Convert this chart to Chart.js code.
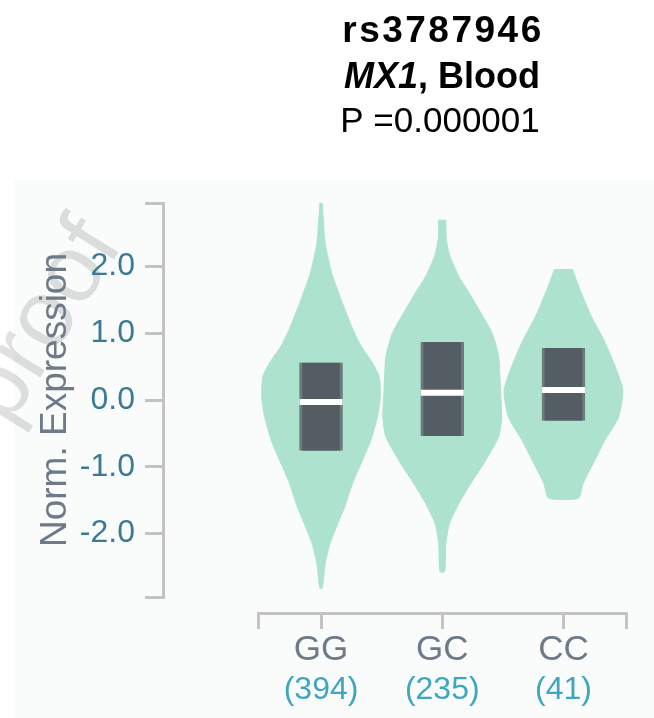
<!DOCTYPE html>
<html>
<head>
<meta charset="utf-8">
<script src="https://cdn.jsdelivr.net/npm/chart.js@4.4.1/dist/chart.umd.min.js"></script>
<style>
  html, body { margin: 0; padding: 0; background: #ffffff; }
  #wrap { width: 654px; height: 718px; }
</style>
</head>
<body>
<div id="wrap"><canvas id="eqtlChart" width="654" height="718"></canvas></div>
<script>
const genotypes = ["GG", "GC", "CC"];
const sampleCounts = [394, 235, 41];
const yTicks = [-2, -1, 0, 1, 2];
const yRange = [-2.95, 2.95];
const xRange = [-0.52, 2.52];

// violin outlines: expression level -> relative density (1 = widest)
const ggLevels = [2.95, 2.35, 1.90, 1.50, 1.05, 0.80, 0.55, 0.35, 0.05, -0.25, -0.60, -0.90, -1.25, -1.60, -1.90, -2.15, -2.45, -2.82];
const ggDensity = [0.02, 0.07, 0.18, 0.34, 0.54, 0.68, 0.87, 0.98, 1.00, 0.95, 0.84, 0.70, 0.53, 0.40, 0.26, 0.15, 0.07, 0.02];
const gcLevels = [2.70, 2.40, 2.15, 1.85, 1.65, 1.35, 1.00, 0.65, 0.15, -0.25, -0.55, -0.95, -1.25, -1.55, -1.85, -2.15, -2.57];
const gcDensity = [0.06, 0.07, 0.13, 0.28, 0.42, 0.62, 0.84, 0.95, 0.98, 1.00, 0.95, 0.70, 0.48, 0.28, 0.12, 0.06, 0.04];
const ccLevels = [1.96, 1.65, 1.25, 0.90, 0.55, 0.15, -0.25, -0.60, -0.95, -1.25, -1.47];
const ccDensity = [0.15, 0.28, 0.47, 0.68, 0.85, 1.00, 0.93, 0.70, 0.50, 0.33, 0.25];

// box: quartiles and medians
const q1 = [-0.76, -0.54, -0.31];
const medians = [-0.03, 0.11, 0.15];
const q3 = [0.56, 0.87, 0.78];

const FONT = '"Liberation Sans", Arial, Helvetica, sans-serif';
const axisGray = "#c3c3c3";
const labelGray = "#6e7a87";
const tickBlue = "#3a7a95";
const countBlue = "#3ea6bf";
const violinGreen = "#ade3ce";
const VIOLIN_HALF = 0.49; // widest point, in category units

function violinOutline(i, levels, density) {
  const right = levels.map((v, k) => ({ x: i + density[k] * VIOLIN_HALF, y: v }));
  const left = levels.map((v, k) => ({ x: i - density[k] * VIOLIN_HALF, y: v })).reverse();
  return right.concat(left);
}

const violins = [
  violinOutline(0, ggLevels, ggDensity),
  violinOutline(1, gcLevels, gcDensity),
  violinOutline(2, ccLevels, ccDensity),
];

const decor = {
  id: "decor",
  beforeDraw(chart) {
    const ctx = chart.ctx;
    ctx.save();
    ctx.fillStyle = "#fafcfc";
    ctx.fillRect(14, 180, chart.width - 14, chart.height - 180);
    // faint watermark
    ctx.translate(44, 322);
    ctx.rotate(-58 * Math.PI / 180);
    ctx.font = "95px " + FONT;
    ctx.fillStyle = "rgba(0,0,0,0.12)";
    ctx.textAlign = "center";
    ctx.textBaseline = "middle";
    ctx.fillText("proof", 0, 0);
    ctx.restore();
  },
  afterDraw(chart) {
    const ctx = chart.ctx;
    const cx = 442;
    ctx.save();
    ctx.fillStyle = "#000";
    ctx.textBaseline = "alphabetic";
    ctx.textAlign = "center";
    ctx.font = "bold 37px " + FONT;
    ctx.letterSpacing = "2.5px";
    ctx.fillText("rs3787946", cx + 1, 42);
    ctx.letterSpacing = "0px";

    const italic = "italic bold 36px " + FONT;
    const bold = "bold 36px " + FONT;
    ctx.font = italic;
    const w1 = ctx.measureText("MX1").width;
    ctx.font = bold;
    const w2 = ctx.measureText(", Blood").width;
    const x0 = cx - (w1 + w2) / 2;
    ctx.textAlign = "left";
    ctx.font = italic;
    ctx.fillText("MX1", x0, 88);
    ctx.font = bold;
    ctx.fillText(", Blood", x0 + w1, 88);

    ctx.textAlign = "center";
    ctx.font = "35px " + FONT;
    ctx.fillText("P =0.000001", cx - 2, 132);
    ctx.restore();
  },
};

const ctx = document.getElementById("eqtlChart").getContext("2d");

new Chart(ctx, {
  type: "line",
  data: {
    datasets: [
      {
        type: "line",
        label: "medians",
        data: medians.map((m, i) => ({ x: i, y: m })),
        showLine: false,
        pointStyle: "line",
        pointRadius: 21.5,
        pointHoverRadius: 21.5,
        pointBorderWidth: 6,
        pointBorderColor: "#ffffff",
        order: 1,
      },
      {
        type: "bar",
        label: "IQR",
        data: q1.map((lo, i) => ({ x: i, y: [lo, q3[i]] })),
        backgroundColor: "#555d64",
        borderColor: "#6b7c7a",
        borderWidth: { left: 3, right: 3, top: 0, bottom: 0 },
        borderSkipped: false,
        barThickness: 43,
        order: 2,
      },
      ...violins.map((pts, i) => ({
        type: "line",
        label: genotypes[i],
        data: pts,
        fill: "shape",
        backgroundColor: violinGreen,
        borderColor: violinGreen,
        borderWidth: 1,
        pointRadius: 0,
        tension: 0.2,
        order: 3,
      })),
    ],
  },
  options: {
    responsive: false,
    animation: false,
    events: [],
    layout: { padding: { top: 203, right: 25, bottom: 7, left: 0 } },
    plugins: { legend: { display: false }, tooltip: { enabled: false } },
    scales: {
      x: {
        type: "linear",
        position: "bottom",
        weight: 1,
        offset: false,
        min: xRange[0],
        max: xRange[1],
        afterBuildTicks: (s) => { s.ticks = [xRange[0], 0, 1, 2, xRange[1]].map((v) => ({ value: v })); },
        afterFit: (s) => { s.height = 58; },
        grid: { offset: false, drawOnChartArea: false, tickLength: 16, color: axisGray, lineWidth: 3 },
        border: { color: axisGray, width: 3 },
        ticks: {
          autoSkip: false,
          maxRotation: 0,
          padding: 0,
          color: labelGray,
          font: { family: FONT, size: 35 },
          callback: (v) => genotypes[v] ?? "",
        },
      },
      xCount: {
        type: "linear",
        position: "bottom",
        weight: 2,
        offset: false,
        min: xRange[0],
        max: xRange[1],
        afterBuildTicks: (s) => { s.ticks = [0, 1, 2].map((v) => ({ value: v })); },
        afterFit: (s) => { s.height = 40; },
        grid: { offset: false, display: false, drawTicks: false },
        border: { display: false },
        ticks: {
          autoSkip: false,
          maxRotation: 0,
          padding: 0,
          color: countBlue,
          font: { family: FONT, size: 32 },
          callback: (v) => "(" + sampleCounts[v] + ")",
        },
      },
      xPad: {
        type: "linear",
        position: "bottom",
        weight: 0,
        ticks: { display: false },
        grid: { display: false, drawTicks: false },
        border: { display: false },
        afterFit: (s) => { s.height = 16; },
      },
      y: {
        type: "linear",
        position: "left",
        weight: 1,
        min: yRange[0],
        max: yRange[1],
        afterBuildTicks: (s) => { s.ticks = [yRange[0], ...yTicks, yRange[1]].map((v) => ({ value: v })); },
        afterFit: (s) => { s.width = 163; },
        grid: { drawOnChartArea: false, tickLength: 18, color: axisGray, lineWidth: 3 },
        border: { color: axisGray, width: 3 },
        ticks: {
          autoSkip: false,
          padding: 10,
          color: tickBlue,
          font: { family: FONT, size: 32 },
          callback: (v) => (yTicks.includes(v) ? v.toFixed(1) : ""),
        },
        title: {
          display: true,
          text: "Norm. Expression",
          color: labelGray,
          font: { family: FONT, size: 37 },
          padding: { top: 34, bottom: 0 },
        },
      },
      yPad: {
        type: "linear",
        position: "left",
        weight: 0,
        ticks: { display: false },
        grid: { display: false, drawTicks: false },
        border: { display: false },
        afterFit: (s) => { s.width = 95; },
      },
    },
  },
  plugins: [decor],
});
</script>
</body>
</html>
